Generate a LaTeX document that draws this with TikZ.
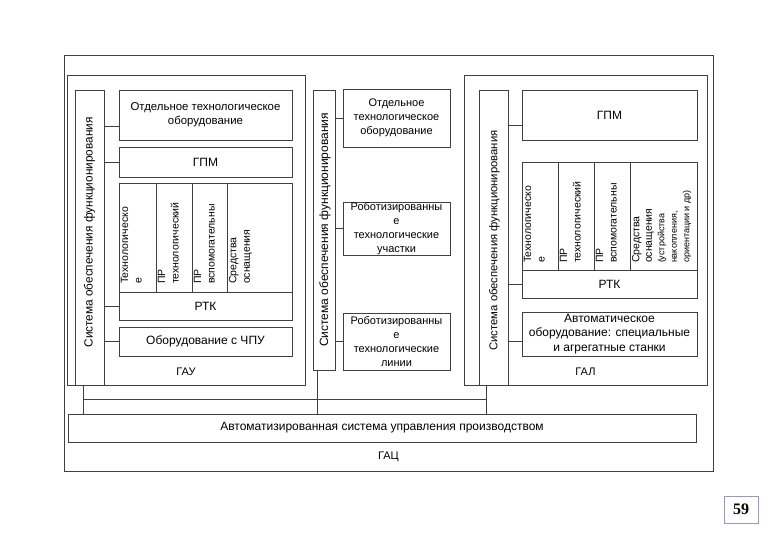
\documentclass[tikz,border=0pt]{standalone}
\usepackage{fontspec}
\setmainfont{Liberation Sans}
\newfontfamily\numfont{Liberation Serif}
\definecolor{linegrey}{gray}{0.25}
\definecolor{pageframe}{RGB}{150,150,215}
\usetikzlibrary{positioning}
\tikzstyle{base}=[x=1pt, y=-1pt, inner sep=0pt, outer sep=0pt]
\tikzstyle{frame}=[draw=linegrey, line width=0.65pt, rectangle, anchor=north west, align=center]
\tikzstyle{wire}=[draw=linegrey, line width=0.65pt]
\tikzstyle{vtext}=[rotate=90, anchor=north west, align=left, inner sep=2pt, font=\fontsize{10.5}{13.5}\selectfont]
\newcommand*{\bigtext}{\fontsize{12}{14.5}\selectfont}
\newcommand*{\smalltext}{\fontsize{9}{12.5}\selectfont}

\begin{document}
\begin{tikzpicture}[base]
    \fontsize{11}{14}\selectfont
        \path [use as bounding box] (0,0) rectangle (780,540);
        % outer frames
        \node [frame, minimum width=649, minimum height=416] (gac) at (64,55) {};
        \node [frame, minimum width=238, minimum height=310] (gau) at (67,75) {};
        \node [frame, minimum width=243, minimum height=310] (gal) at (464,75) {};
        \node (gacLabel) at ([yshift=14pt]gac.south) {ГАЦ};
        \node (gauLabel) at ([yshift=13pt]gau.south) {ГАУ};
        \node (galLabel) at ([yshift=13pt]gal.south) {ГАЛ};
        % ГАУ
        \node [frame, minimum width=29, minimum height=295] (barL) at (75,90) {};
        \node [rotate=90, font=\fontsize{11.8}{13}\selectfont] (barLText) at ([yshift=5pt]barL.center) {Система обеспечения функционирования};
        \node [frame, minimum width=173, minimum height=50, font=\fontsize{11.4}{14}\selectfont] (otdL) at (119,90) {Отдельное технологическое\\оборудование};
        \node [frame, minimum width=173, minimum height=30, font=\bigtext] (gpmL) at (119,147) {ГПМ};
        \node [frame, minimum width=37, minimum height=109] (cellL1) at (119,183) {};
        \node [frame, minimum width=36, minimum height=109] (cellL2) at (156,183) {};
        \node [frame, minimum width=35, minimum height=109] (cellL3) at (192,183) {};
        \node [frame, minimum width=65, minimum height=109] (cellL4) at (227,183) {};
        \node [vtext] at ([yshift=6pt]cellL1.south west) {Технологическо\\е};
        \node [vtext] at ([yshift=6pt]cellL2.south west) {ПР\\технологический};
        \node [vtext] at ([yshift=6pt]cellL3.south west) {ПР\\вспомогательны};
        \node [vtext] at ([yshift=6pt]cellL4.south west) {Средства\\оснащения};
        \node [frame, minimum width=173, minimum height=28, font=\bigtext] (rtkL) at (119,292) {РТК};
        \node [frame, minimum width=173, minimum height=29, font=\bigtext] (cncL) at (119,327) {Оборудование с ЧПУ};
        \coordinate (cL1) at ([yshift=-11pt]otdL.west);
        \draw [wire] (cL1 -| barL.east) -- (cL1);
        \draw [wire] (barL.east |- gpmL.west) -- (gpmL.west);
        \draw [wire] (barL.east |- rtkL.west) -- (rtkL.west);
        \draw [wire] (barL.east |- cncL.west) -- (cncL.west);
        % middle column
        \node [frame, minimum width=22, minimum height=280] (barM) at (313,90) {};
        \node [rotate=90, font=\fontsize{12}{13}\selectfont] (barMText) at ([xshift=1pt]barM.center) {Система обеспечения функционирования};
        \node [frame, minimum width=107, minimum height=58] (otdM) at (343,89) {Отдельное\\технологическое\\оборудование};
        \node [frame, minimum width=107, minimum height=53] (rtuM) at (343,202) {Роботизированны\\е\\технологические\\участки};
        \node [frame, minimum width=107, minimum height=57] (rtlM) at (343,313) {Роботизированны\\е\\технологические\\линии};
        \draw [wire] (barM.east |- otdM.west) -- (otdM.west);
        \draw [wire] (barM.east |- rtuM.west) -- (rtuM.west);
        \draw [wire] (barM.east |- rtlM.west) -- (rtlM.west);
        % ГАЛ
        \node [frame, minimum width=29, minimum height=295] (barR) at (479,90) {};
        \node [rotate=90, font=\fontsize{11.3}{12}\selectfont] (barRText) at ([xshift=1pt, yshift=-3pt]barR.center) {Система обеспечения функционирования};
        \node [frame, minimum width=175, minimum height=50, font=\bigtext] (gpmR) at (522,90) {ГПМ};
        \node [frame, minimum width=36, minimum height=108] (cellR1) at (522,162) {};
        \node [frame, minimum width=36, minimum height=108] (cellR2) at (558,162) {};
        \node [frame, minimum width=36, minimum height=108] (cellR3) at (594,162) {};
        \node [frame, minimum width=67, minimum height=108] (cellR4) at (630,162) {};
        \node [vtext] at ([yshift=5pt]cellR1.south west) {Технологическо\\е};
        \node [vtext] at ([yshift=5pt]cellR2.south west) {ПР\\технологический};
        \node [vtext] at ([yshift=5pt]cellR3.south west) {ПР\\вспомогательны};
        \node [vtext, font=\fontsize{10.5}{12.5}\selectfont] at ([yshift=5pt]cellR4.south west) {Средства\\оснащения\\{\smalltext(устройства}\\{\smalltext накопления,}\\{\smalltext ориентации и др)}};
        \node [frame, minimum width=175, minimum height=28, font=\bigtext] (rtkR) at (522,270) {РТК};
        \node [frame, minimum width=175, minimum height=44, font=\bigtext] (autoR) at (522,312) {Автоматическое\\оборудование: специальные\\и агрегатные станки};
        \coordinate (cR1) at ([yshift=-10pt]gpmR.west);
        \coordinate (cR3) at ([yshift=-7pt]autoR.west);
        \draw [wire] (cR1 -| barR.east) -- (cR1);
        \draw [wire] (barR.east |- rtkR.west) -- (rtkR.west);
        \draw [wire] (cR3 -| barR.east) -- (cR3);
        % АСУП and bus
        \node [frame, minimum width=628, minimum height=28, font=\bigtext] (asup) at (68,414) {Автоматизированная система управления производством};
        \coordinate (tapL) at (83,385);
        \coordinate (tapM) at (317,370);
        \coordinate (tapR) at (486,385);
        \coordinate (bus) at (0,399);
        \draw [wire] (tapL) -- (tapL |- asup.north);
        \draw [wire] (tapM) -- (tapM |- asup.north);
        \draw [wire] (tapR) -- (tapR |- asup.north);
        \draw [wire] (tapL |- bus) -- (tapR |- bus);
        % page number
        \node [draw=pageframe, line width=0.8pt, minimum width=34, minimum height=27, font=\numfont\bfseries\fontsize{16}{18}\selectfont] (pageNo) at (741,509.5) {59};
    \end{tikzpicture}
\end{document}
